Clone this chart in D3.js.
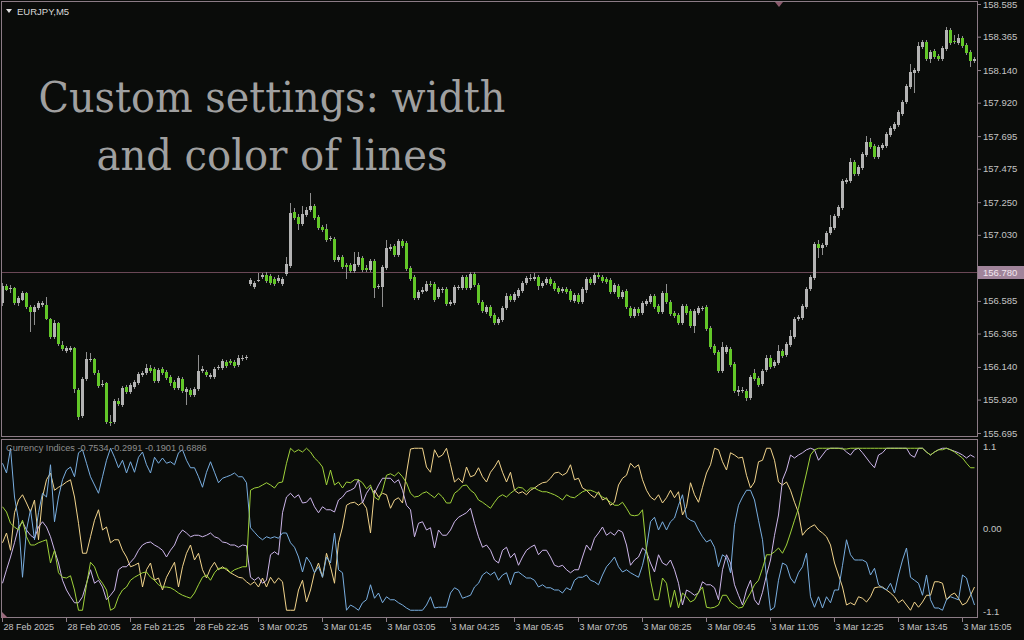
<!DOCTYPE html>
<html>
<head>
<meta charset="utf-8">
<script src="https://cdn.jsdelivr.net/npm/d3@7"></script>
<style>
  body { margin: 0; background: #0a0c0a; }
  svg { display: block; }
  text { font-family: "Liberation Sans", Arial, sans-serif; }
  text.caption { font-family: "DejaVu Serif", serif; font-size: 43px; }
</style>
</head>
<body>
<svg id="chart" width="1024" height="640"></svg>
<script>
// EURJPY M5 candles (one per bar, oldest first)
const opens = [
  156.570,156.684,156.664,156.671,156.570,156.590,156.637,156.543,156.509,156.536,
  156.556,156.556,156.462,156.341,156.435,156.287,156.246,156.253,156.267,155.983,
  155.808,156.058,156.186,156.192,156.098,156.017,156.031,155.768,155.768,155.909,
  155.882,156.004,155.970,156.004,156.031,156.085,156.098,156.132,156.125,156.044,
  156.125,156.105,156.071,156.037,155.997,156.058,155.970,155.983,155.950,155.990,
  156.111,156.105,156.071,156.071,156.132,156.132,156.172,156.179,156.172,156.152,
  156.192,156.199,156.698,156.678,156.718,156.745,156.759,156.752,156.732,156.718,
  156.698,156.765,156.819,157.183,157.149,157.102,157.163,157.197,157.224,157.149,
  157.082,157.068,157.001,157.001,156.860,156.880,156.826,156.826,156.786,156.826,
  156.873,156.806,156.792,156.853,156.678,156.678,156.806,156.934,156.954,156.893,
  156.988,156.974,156.806,156.745,156.604,156.644,156.651,156.698,156.698,156.610,
  156.657,156.664,156.563,156.570,156.671,156.671,156.745,156.671,156.765,156.691,
  156.577,156.509,156.543,156.489,156.435,156.455,156.536,156.617,156.590,156.617,
  156.651,156.705,156.732,156.732,156.745,156.684,156.705,156.732,156.705,156.671,
  156.651,156.664,156.651,156.583,156.624,156.577,156.657,156.732,156.705,156.759,
  156.745,156.732,156.725,156.644,156.684,156.610,156.651,156.536,156.482,156.529,
  156.502,156.563,156.577,156.617,156.550,156.509,156.637,156.577,156.502,156.489,
  156.435,156.550,156.516,156.415,156.502,156.529,156.543,156.401,156.280,156.240,
  156.111,156.240,156.260,156.159,155.970,155.977,155.977,155.930,156.098,156.064,
  156.024,156.118,156.199,156.145,156.165,156.246,156.219,156.287,156.341,156.462,
  156.469,156.543,156.664,156.738,156.967,156.940,156.961,157.042,157.075,157.156,
  157.210,157.385,157.392,157.520,157.439,157.480,157.567,157.655,157.628,157.554,
  157.615,157.628,157.702,157.743,157.770,157.844,157.925,158.026,158.120,158.133,
  158.295,158.329,158.214,158.268,158.235,158.214,158.282,158.410,158.336,158.322,
  158.356,158.309,158.262,158.201
];
const highs = [
  156.705,156.698,156.691,156.678,156.617,156.651,156.644,156.556,156.556,156.583,
  156.583,156.610,156.469,156.455,156.442,156.314,156.280,156.280,156.273,155.997,
  156.071,156.240,156.233,156.199,156.118,156.051,156.037,155.815,155.923,155.930,
  156.010,156.017,156.031,156.051,156.105,156.111,156.159,156.152,156.139,156.132,
  156.139,156.118,156.085,156.051,156.078,156.071,156.004,155.997,156.004,156.219,
  156.145,156.118,156.098,156.139,156.152,156.192,156.186,156.192,156.186,156.219,
  156.219,156.219,156.738,156.718,156.772,156.772,156.779,156.765,156.745,156.759,
  156.745,156.880,157.244,157.210,157.170,157.224,157.217,157.311,157.237,157.163,
  157.095,157.102,157.021,157.015,156.893,156.893,156.840,156.840,156.913,156.913,
  156.887,156.826,156.867,156.867,156.698,156.826,156.994,156.967,156.967,157.001,
  157.001,156.988,156.819,156.759,156.657,156.678,156.718,156.718,156.711,156.678,
  156.678,156.678,156.590,156.691,156.691,156.759,156.759,156.779,156.779,156.705,
  156.590,156.556,156.556,156.502,156.475,156.550,156.637,156.630,156.644,156.671,
  156.718,156.752,156.765,156.772,156.759,156.718,156.745,156.745,156.718,156.684,
  156.678,156.678,156.664,156.637,156.637,156.678,156.745,156.745,156.772,156.779,
  156.759,156.745,156.738,156.705,156.698,156.657,156.664,156.550,156.543,156.543,
  156.583,156.597,156.631,156.631,156.563,156.651,156.698,156.590,156.516,156.502,
  156.563,156.563,156.529,156.529,156.550,156.550,156.556,156.415,156.293,156.253,
  156.307,156.287,156.273,156.172,156.010,156.004,155.990,156.085,156.125,156.078,
  156.125,156.219,156.219,156.186,156.287,156.260,156.307,156.388,156.475,156.489,
  156.563,156.678,156.759,156.981,156.994,156.974,157.055,157.163,157.170,157.230,
  157.406,157.412,157.547,157.534,157.500,157.588,157.695,157.682,157.641,157.635,
  157.648,157.722,157.763,157.790,157.871,157.938,158.046,158.181,158.154,158.329,
  158.342,158.342,158.275,158.282,158.248,158.302,158.430,158.423,158.376,158.383,
  158.369,158.322,158.275,158.228
];
const lows = [
  156.550,156.651,156.637,156.556,156.550,156.583,156.529,156.374,156.422,156.523,
  156.543,156.455,156.327,156.327,156.280,156.246,156.233,156.240,155.963,155.781,
  155.795,156.044,156.172,156.085,155.997,156.004,155.754,155.741,155.754,155.876,
  155.869,155.956,155.956,155.990,156.017,156.071,156.085,156.098,156.031,156.031,
  156.085,156.051,156.010,155.983,155.983,155.963,155.882,155.936,155.936,155.977,
  156.098,156.071,156.058,156.058,156.118,156.118,156.132,156.152,156.132,156.139,
  156.179,156.186,156.684,156.664,156.711,156.732,156.705,156.691,156.684,156.705,
  156.684,156.752,156.806,157.129,157.062,157.089,157.149,157.183,157.129,157.062,
  157.048,156.981,156.988,156.846,156.846,156.799,156.732,156.772,156.772,156.813,
  156.779,156.779,156.779,156.604,156.664,156.543,156.792,156.920,156.880,156.880,
  156.940,156.786,156.718,156.590,156.590,156.630,156.644,156.678,156.577,156.597,
  156.637,156.550,156.550,156.556,156.657,156.657,156.657,156.657,156.678,156.556,
  156.502,156.496,156.469,156.422,156.422,156.442,156.523,156.577,156.577,156.604,
  156.637,156.691,156.718,156.718,156.657,156.671,156.691,156.684,156.651,156.630,
  156.637,156.630,156.577,156.570,156.563,156.563,156.637,156.691,156.691,156.732,
  156.705,156.698,156.630,156.630,156.597,156.597,156.529,156.469,156.469,156.482,
  156.489,156.550,156.563,156.529,156.496,156.496,156.563,156.482,156.469,156.422,
  156.422,156.489,156.401,156.368,156.489,156.516,156.381,156.260,156.219,156.098,
  156.098,156.226,156.139,155.963,155.943,155.963,155.909,155.916,156.044,156.004,
  156.010,156.105,156.125,156.132,156.152,156.199,156.206,156.273,156.327,156.449,
  156.455,156.529,156.651,156.725,156.873,156.893,156.947,157.028,157.062,157.143,
  157.197,157.372,157.379,157.426,157.426,157.466,157.554,157.608,157.540,157.540,
  157.601,157.615,157.689,157.729,157.756,157.830,157.911,158.012,157.985,158.120,
  158.282,158.201,158.187,158.214,158.201,158.201,158.268,158.309,158.315,158.309,
  158.288,158.241,158.160,158.187
];
const closes = [
  156.684,156.657,156.671,156.570,156.604,156.637,156.543,156.509,156.543,156.570,
  156.570,156.462,156.341,156.435,156.293,156.260,156.267,156.267,155.990,155.801,
  156.058,156.192,156.192,156.098,156.010,156.024,155.768,155.761,155.909,155.889,
  155.997,155.970,156.017,156.037,156.091,156.098,156.132,156.111,156.044,156.118,
  156.098,156.064,156.031,155.997,156.064,155.977,155.990,155.950,155.990,156.111,
  156.125,156.085,156.085,156.125,156.139,156.179,156.145,156.165,156.145,156.199,
  156.199,156.206,156.725,156.705,156.725,156.759,156.718,156.705,156.698,156.738,
  156.732,156.833,157.176,157.143,157.102,157.170,157.197,157.224,157.143,157.075,
  157.062,156.994,157.008,156.860,156.880,156.813,156.813,156.786,156.833,156.880,
  156.792,156.792,156.853,156.671,156.684,156.813,156.940,156.947,156.893,156.988,
  156.954,156.799,156.732,156.604,156.644,156.657,156.698,156.691,156.590,156.664,
  156.664,156.563,156.577,156.678,156.678,156.745,156.671,156.765,156.691,156.570,
  156.516,156.543,156.482,156.435,156.462,156.536,156.617,156.590,156.631,156.657,
  156.705,156.738,156.738,156.745,156.684,156.705,156.732,156.698,156.664,156.644,
  156.664,156.644,156.590,156.624,156.577,156.664,156.732,156.705,156.759,156.745,
  156.718,156.711,156.644,156.691,156.610,156.644,156.543,156.482,156.529,156.502,
  156.570,156.583,156.617,156.543,156.509,156.637,156.577,156.496,156.482,156.435,
  156.550,156.502,156.415,156.516,156.536,156.536,156.395,156.273,156.233,156.111,
  156.273,156.273,156.152,155.977,155.983,155.983,155.930,156.071,156.058,156.017,
  156.111,156.199,156.139,156.172,156.246,156.213,156.293,156.347,156.462,156.475,
  156.550,156.664,156.745,156.967,156.940,156.961,157.042,157.082,157.156,157.217,
  157.392,157.399,157.520,157.439,157.486,157.574,157.655,157.621,157.554,157.621,
  157.635,157.709,157.749,157.776,157.857,157.925,158.032,158.127,158.140,158.302,
  158.329,158.214,158.262,158.228,158.214,158.288,158.410,158.322,158.329,158.356,
  158.302,158.255,158.201,158.214
];

// Currency Indices subwindow, four lines
const indexBlue = [
  0.87,0.74,1.07,0.42,0.11,-0.65,-0.02,0.25,-0.15,0.21,
  0.47,0.42,0.85,0.09,0.42,0.65,0.78,0.82,0.69,1.01,
  1.05,0.87,0.69,0.58,0.47,0.69,0.91,1.07,0.95,0.81,
  0.91,0.74,0.89,0.75,0.95,1.02,0.85,0.74,0.95,0.87,
  0.94,0.87,0.89,0.85,1.01,1.05,0.91,0.81,0.81,0.69,
  0.55,0.75,0.89,0.75,0.61,0.67,0.69,0.71,0.74,0.69,
  0.69,0.61,0.01,-0.05,-0.11,-0.15,-0.11,-0.13,-0.11,-0.13,
  -0.06,-0.06,-0.19,-0.25,-0.38,-0.58,-0.38,-0.46,-0.59,-0.51,
  -0.65,-0.38,-0.46,-0.06,-0.55,-0.59,-1.09,-1.02,-1.05,-1.09,
  -0.99,-0.95,-0.75,-0.93,-0.86,-0.99,-0.91,-0.95,-0.95,-0.99,
  -1.02,-1.06,-1.09,-1.09,-1.09,-1.09,-1.02,-0.91,-1.06,-1.05,
  -1.05,-1.05,-0.86,-0.79,-0.82,-0.93,-0.91,-0.89,-0.78,-0.73,
  -0.62,-0.58,-0.62,-0.58,-0.69,-0.62,-0.59,-0.75,-0.59,-0.58,
  -0.62,-0.66,-0.66,-0.69,-0.78,-0.75,-0.79,-0.79,-0.82,-0.82,
  -0.86,-0.79,-0.82,-0.69,-0.65,-0.65,-0.62,-0.69,-0.71,-0.75,
  -0.62,-0.51,-0.45,-0.38,-0.51,-0.58,-0.55,-0.59,-0.62,-0.65,
  -0.49,-0.26,0.09,0.15,-0.02,0.09,-0.02,0.09,0.14,0.31,
  0.45,0.15,0.11,0.09,-0.02,-0.11,-0.18,-0.15,-0.25,-0.51,
  -0.35,-0.39,-0.59,0.05,0.31,0.42,0.51,0.51,0.38,0.11,
  -0.15,-0.65,-1.09,-1.05,-0.69,-0.46,-0.49,-0.66,-0.73,-0.59,
  -0.51,-0.33,-0.91,-1.05,-0.91,-1.06,-0.91,-0.99,-0.82,-0.82,
  -0.49,-0.15,-0.35,-0.42,-0.42,-0.42,-0.45,-0.62,-0.53,-0.75,
  -0.79,-0.82,-0.73,-0.86,-0.62,-0.42,-0.26,-0.65,-0.69,-0.73,
  -0.89,-0.62,-0.95,-1.06,-1.06,-1.09,-0.95,-0.91,-0.93,-0.95,
  -0.62,-0.66,-0.86,-1.02
];
const indexGold = [
  -0.19,-0.06,-0.29,0.21,0.38,0.45,0.34,0.22,0.38,-0.15,
  0.42,0.65,0.74,0.51,0.55,0.58,0.62,0.65,0.42,0.07,
  -0.33,-0.33,-0.11,0.11,0.25,-0.02,0.02,-0.19,-0.15,-0.15,
  -0.29,-0.38,-0.51,-0.49,-0.46,-0.78,-0.55,-0.46,-0.69,-0.66,
  -0.82,-0.65,-0.55,-0.45,-0.78,-0.51,-0.33,-0.22,-0.42,-0.33,
  -0.55,-0.66,-0.53,-0.45,-0.55,-0.51,-0.55,-0.59,-0.62,-0.65,
  -0.66,-0.71,-0.75,-0.71,-0.78,-0.66,-0.78,-0.65,-0.73,-0.66,
  -0.71,-1.09,-1.09,-1.09,-0.82,-0.69,-0.98,-0.82,-0.59,-0.46,
  -0.65,-0.33,-0.51,-0.73,-0.19,0.02,0.31,0.34,0.35,0.31,
  0.35,0.27,-0.06,0.51,0.42,0.47,0.45,0.27,0.38,0.41,
  0.34,0.74,1.06,1.07,1.07,1.07,0.82,0.75,1.05,0.95,
  0.98,1.07,0.85,0.62,0.67,0.61,0.82,0.69,0.71,0.81,
  0.69,0.62,0.75,0.82,0.91,0.75,0.62,0.75,0.51,0.47,
  0.49,0.45,0.51,0.54,0.58,0.61,0.62,0.67,0.74,0.75,
  0.71,0.74,0.85,0.65,0.67,0.54,0.51,0.45,0.41,0.49,
  0.38,0.41,0.31,0.35,0.58,0.67,0.71,0.87,0.81,0.85,
  0.65,0.51,0.42,0.38,0.45,0.34,0.41,0.51,0.41,0.49,
  0.18,0.29,0.61,0.45,0.35,0.55,0.74,0.85,1.07,1.05,
  0.89,0.78,1.01,0.98,0.94,0.95,0.71,0.54,0.62,0.89,
  0.91,1.07,1.07,0.91,0.62,0.58,0.62,0.51,0.35,0.21,
  -0.09,-0.02,0.02,0.05,-0.02,-0.06,-0.11,-0.22,-0.46,-0.62,
  -0.78,-1.02,-0.99,-1.02,-0.91,-0.93,-0.98,-0.91,-0.79,-0.78,
  -0.78,-0.82,-0.86,-0.91,-0.99,-0.95,-1.02,-1.09,-0.98,-1.05,
  -0.98,-0.89,-0.89,-0.71,-0.71,-0.73,-0.95,-0.89,-0.86,-0.93,
  -1.02,-0.99,-0.89,-0.78
];
const indexGreen = [
  0.29,0.22,0.07,0.02,-0.02,0.11,-0.11,-0.22,-0.22,-0.19,
  -0.17,-0.15,-0.46,-0.29,-0.59,-0.65,-0.66,-0.63,-0.82,-1.09,
  -1.09,-0.75,-0.45,-0.51,-0.66,-0.73,-0.82,-1.09,-1.06,-0.91,
  -0.82,-0.78,-0.69,-0.65,-0.62,-0.59,-0.58,-0.65,-0.69,-0.75,
  -0.78,-0.78,-0.79,-0.82,-0.86,-0.89,-0.91,-0.93,-0.86,-0.75,
  -0.65,-0.62,-0.69,-0.59,-0.53,-0.53,-0.53,-0.59,-0.55,-0.53,
  -0.51,-0.51,0.51,0.54,0.55,0.58,0.61,0.58,0.54,0.61,
  0.62,0.87,1.07,1.02,1.05,1.02,1.07,1.02,0.94,0.89,
  0.82,0.58,0.78,0.58,0.62,0.54,0.62,0.61,0.65,0.65,
  0.61,0.53,0.58,0.42,0.38,0.51,0.71,0.73,0.70,0.75,
  0.69,0.61,0.47,0.42,0.43,0.47,0.49,0.45,0.41,0.47,
  0.42,0.34,0.34,0.47,0.51,0.57,0.58,0.51,0.47,0.38,
  0.35,0.31,0.27,0.35,0.42,0.45,0.42,0.47,0.51,0.55,
  0.54,0.49,0.54,0.54,0.51,0.49,0.49,0.47,0.45,0.42,
  0.38,0.45,0.42,0.41,0.45,0.49,0.51,0.51,0.49,0.46,
  0.42,0.39,0.35,0.31,0.31,0.35,0.27,0.18,0.17,0.18,
  0.25,-0.29,-0.69,-0.95,-0.95,-0.66,-0.73,-1.05,-0.82,-1.06,
  -0.86,-0.91,-0.98,-0.95,-0.85,-0.78,-1.05,-1.06,-1.05,-1.02,
  -0.89,-0.89,-0.98,-1.02,-1.06,-1.05,-0.95,-0.86,-0.75,-0.69,
  -0.53,-0.35,-0.35,-0.31,-0.26,-0.33,-0.22,-0.06,0.11,0.27,
  0.51,0.74,0.98,1.05,1.07,1.07,1.07,1.07,1.07,1.07,
  1.06,1.06,1.07,1.07,1.07,1.07,1.07,1.07,1.07,1.07,
  1.07,1.07,1.07,1.07,1.07,1.07,1.07,1.07,1.07,1.07,
  1.07,1.02,0.98,1.02,1.05,1.05,1.07,1.05,1.02,0.98,
  0.94,0.87,0.81,0.81
];
const indexViolet = [
  -0.73,-0.55,-0.38,-0.19,0.02,0.09,-0.02,-0.09,-0.13,0.02,
  0.09,0.02,-0.11,-0.29,-0.46,-0.69,-0.82,-0.91,-0.99,-0.99,
  -0.91,-0.73,-0.55,-0.73,-0.69,-0.78,-0.95,-0.89,-0.82,-0.55,
  -0.51,-0.51,-0.45,-0.39,-0.29,-0.22,-0.19,-0.18,-0.22,-0.25,
  -0.29,-0.38,-0.29,-0.22,-0.09,-0.02,-0.06,-0.11,-0.09,-0.09,
  -0.11,-0.09,-0.06,-0.11,-0.13,-0.18,-0.19,-0.22,-0.22,-0.25,
  -0.22,-0.23,-0.65,-0.69,-0.65,-0.73,-0.69,-0.35,-0.31,-0.35,
  0.21,0.42,0.47,0.41,0.45,0.34,0.35,0.41,0.29,0.21,
  0.29,0.25,0.25,0.22,0.38,0.42,0.49,0.51,0.54,0.65,
  0.34,0.47,0.55,0.47,0.58,0.67,0.67,0.67,0.61,0.65,
  0.51,0.31,0.25,-0.11,0.07,0.09,-0.02,0.01,-0.26,-0.02,
  -0.09,-0.09,-0.02,0.09,0.15,0.18,0.21,0.27,0.07,-0.11,
  -0.25,-0.22,-0.29,-0.42,-0.46,-0.29,-0.25,-0.39,-0.33,-0.49,
  -0.38,-0.29,-0.25,-0.22,-0.35,-0.29,-0.29,-0.38,-0.49,-0.51,
  -0.49,-0.55,-0.59,-0.55,-0.55,-0.38,-0.22,-0.29,-0.13,-0.06,
  0.02,-0.09,-0.05,-0.09,-0.02,-0.05,-0.22,-0.49,-0.42,-0.38,
  -0.26,-0.31,-0.46,-0.58,-0.35,-0.46,-0.49,-0.42,-0.55,-0.73,
  -1.02,-0.82,-0.85,-0.89,-0.86,-0.71,-0.75,-0.75,-0.79,-0.95,
  -0.55,-0.35,-0.46,-0.75,-0.89,-1.02,-0.82,-0.69,-0.95,-1.02,
  -0.85,-0.62,-0.42,-0.09,0.18,0.65,0.78,0.98,0.94,0.98,
  1.01,1.05,1.07,1.05,0.91,0.98,1.05,1.07,1.07,1.07,
  1.07,1.02,0.98,1.05,1.07,1.01,0.94,0.87,0.81,0.98,
  1.01,1.07,1.07,1.07,1.07,1.07,1.07,0.98,0.95,1.07,
  1.07,1.02,0.98,1.02,1.05,1.07,1.07,1.05,1.03,1.01,
  0.98,0.94,0.98,0.95
];

const priceTicks = [158.585, 158.365, 158.140, 157.920, 157.695, 157.475, 157.250,
  157.030, 156.805, 156.585, 156.365, 156.140, 155.920, 155.695];
const indexTicks = [1.1, 0, -1.1];
const indexTickLabels = ['1.1', '0.00', '-1.1'];
const timeBars = [0, 16, 32, 48, 64, 80, 96, 112, 128, 144, 160, 176, 192, 208, 224, 240];
const timeLabels = ['28 Feb 2025', '28 Feb 20:05', '28 Feb 21:25', '28 Feb 22:45',
  '3 Mar 00:25', '3 Mar 01:45', '3 Mar 03:05', '3 Mar 04:25', '3 Mar 05:45',
  '3 Mar 07:05', '3 Mar 08:25', '3 Mar 09:45', '3 Mar 11:05', '3 Mar 12:25',
  '3 Mar 13:45', '3 Mar 15:05'];
const bidPrice = 156.780;
const legendText = 'Currency Indices -0.7534 -0.2991 -0.1901 0.6886';

const svg = d3.select('#chart');
const frameColor = '#8c7c86';
const axisText = '#c4c4c4';
const axisX = 977;

const x = d3.scaleLinear()
  .domain([0, closes.length - 1])
  .range([2, 2 + 4 * (closes.length - 1)]);
const yPrice = d3.scaleLinear().domain([155.695, 158.585]).range([433, 4]);
const yIndex = d3.scaleLinear().domain([-1.1, 1.1]).range([611, 446]);

svg.append('rect').attr('width', 1024).attr('height', 640).attr('fill', '#0a0c0a');

const defs = svg.append('defs');
defs.append('clipPath').attr('id', 'clip-main')
  .append('rect').attr('x', 2).attr('y', 3).attr('width', 975).attr('height', 433);
defs.append('clipPath').attr('id', 'clip-sub')
  .append('rect').attr('x', 2).attr('y', 440).attr('width', 975).attr('height', 177);

// frames
const frames = svg.append('g')
  .attr('fill', 'none').attr('stroke', frameColor).attr('shape-rendering', 'crispEdges');
frames.append('rect').attr('x', 1.5).attr('y', 1.5).attr('width', axisX - 1.5).attr('height', 435);
frames.append('rect').attr('x', 1.5).attr('y', 439.5).attr('width', axisX - 1.5).attr('height', 178);

// bid line
svg.append('line')
  .attr('x1', 2).attr('x2', axisX)
  .attr('y1', Math.round(yPrice(bidPrice)) + 0.5).attr('y2', Math.round(yPrice(bidPrice)) + 0.5)
  .attr('stroke', '#6a4856').attr('shape-rendering', 'crispEdges');

// candles
const candles = svg.append('g').attr('clip-path', 'url(#clip-main)')
  .attr('shape-rendering', 'crispEdges');
const bars = d3.range(closes.length);

candles.selectAll('.wick')
  .data(bars)
  .enter().append('rect')
  .attr('class', 'wick')
  .attr('x', i => Math.round(x(i)))
  .attr('width', 1)
  .attr('y', i => Math.round(yPrice(highs[i])))
  .attr('height', i => Math.max(1, Math.round(yPrice(lows[i])) - Math.round(yPrice(highs[i]))))
  .attr('fill', '#8f8f8f');

candles.selectAll('.body')
  .data(bars)
  .enter().append('rect')
  .attr('class', 'body')
  .attr('x', i => Math.round(x(i)) - 1)
  .attr('width', 3)
  .attr('y', i => Math.round(yPrice(Math.max(opens[i], closes[i]))))
  .attr('height', i => Math.max(1, Math.round(yPrice(Math.min(opens[i], closes[i]))) - Math.round(yPrice(Math.max(opens[i], closes[i])))))
  .attr('fill', i => closes[i] >= opens[i] ? '#b4b4b4' : '#62c728');

// price axis
const priceAxis = svg.append('g')
  .attr('transform', `translate(${axisX},0)`)
  .call(d3.axisRight(yPrice).tickValues(priceTicks).tickFormat(d3.format('.3f')).tickSize(4).tickPadding(2));
priceAxis.select('.domain').remove();
priceAxis.selectAll('line').attr('stroke', frameColor);
priceAxis.selectAll('text').attr('fill', axisText).style('font-size', '9.5px');

// bid label
const bidY = Math.round(yPrice(bidPrice));
svg.append('rect').attr('x', axisX + 1).attr('y', bidY - 6).attr('width', 46).attr('height', 13)
  .attr('fill', '#a0849a');
svg.append('text').attr('x', axisX + 6).attr('y', bidY + 4)
  .attr('fill', '#f2e6ee').style('font-size', '9.5px').text(d3.format('.3f')(bidPrice));

// index axis
const indexAxis = svg.append('g')
  .attr('transform', `translate(${axisX},0)`)
  .call(d3.axisRight(yIndex).tickValues(indexTicks).tickFormat((d, i) => indexTickLabels[i]).tickSize(0).tickPadding(6));
indexAxis.select('.domain').remove();
indexAxis.selectAll('text').attr('fill', axisText).style('font-size', '9.5px');

// time axis
const timeAxis = svg.append('g')
  .attr('transform', 'translate(0,618)')
  .call(d3.axisBottom(x).tickValues(timeBars).tickFormat((d, i) => timeLabels[i]).tickSize(4).tickPadding(2));
timeAxis.select('.domain').remove();
timeAxis.selectAll('line').attr('stroke', frameColor).attr('shape-rendering', 'crispEdges');
timeAxis.selectAll('text').attr('fill', axisText).style('font-size', '9px')
  .attr('text-anchor', 'start').attr('dx', '1');

// indicator lines
const lineGen = d3.line().x((d, i) => x(i) + 0.5).y(d => yIndex(d));
const sub = svg.append('g').attr('clip-path', 'url(#clip-sub)');
[[indexGold, '#f2d48c'], [indexViolet, '#cdb6ea'], [indexBlue, '#79aee0'], [indexGreen, '#9fd23a']]
  .forEach(([values, color]) => {
    sub.append('path')
      .datum(values)
      .attr('d', lineGen)
      .attr('fill', 'none')
      .attr('stroke', color)
      .attr('stroke-width', 1);
  });

svg.append('text').attr('x', 6).attr('y', 451)
  .attr('fill', '#8e8e8e').style('font-size', '9.2px').text(legendText);

// symbol title
svg.append('path').attr('d', 'M6,9 L12,9 L9,13 Z').attr('fill', '#e0e0e0');
svg.append('text').attr('x', 17).attr('y', 15)
  .attr('fill', '#d8d8d8').style('font-size', '9.5px').text('EURJPY,M5');

// markers
svg.append('path').attr('d', 'M775,2 L783,2 L779,7 Z').attr('fill', '#8a5a6c');
svg.append('path').attr('d', 'M2,612 L2,618 L8,618 Z').attr('fill', '#9a6a7c');

// overlay caption
const caption = svg.append('g')
  .attr('fill', '#a0a0a0')
  .attr('text-anchor', 'middle');
caption.append('text').attr('class', 'caption').attr('x', 272).attr('y', 112)
  .attr('textLength', 467).attr('lengthAdjust', 'spacingAndGlyphs')
  .text('Custom settings: width');
caption.append('text').attr('class', 'caption').attr('x', 272).attr('y', 170)
  .attr('textLength', 351).attr('lengthAdjust', 'spacingAndGlyphs')
  .text('and color of lines');
</script>
</body>
</html>
